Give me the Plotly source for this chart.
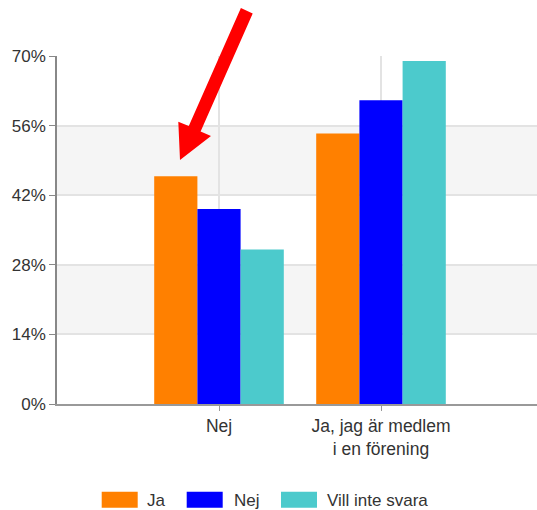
import plotly.graph_objects as go

categories = ["Nej", "Ja, jag är medlem<br>i en förening"]
series_names = ["Ja", "Nej", "Vill inte svara"]
series_colors = ["#FF8000", "#0000FF", "#4CCACC"]
values_ja = [45.8, 54.4]
values_nej = [39.2, 61.1]
values_vill = [31.1, 69.0]
series_values = [values_ja, values_nej, values_vill]
y_ticks = [0, 14, 28, 42, 56, 70]
y_tick_labels = ["0%", "14%", "28%", "42%", "56%", "70%"]

W, H = 537, 510
ML, MR, MT, MB = 57, 0, 56, 106
PW, PH = W - ML - MR, H - MT - MB

def px(x):
    return (x - ML) / PW

def py(y):
    return (H - MB - y) / PH

FONT = "Liberation Sans, Arial, sans-serif"
TXT = "#333333"

fig = go.Figure()
for name, vals, col in zip(series_names, series_values, series_colors):
    fig.add_trace(go.Bar(x=categories, y=vals, name=name, marker=dict(color=col, line=dict(width=0)),
                         showlegend=False))

shapes = []
# alternating background bands
for i in range(1, len(y_ticks) - 1, 2):
    shapes.append(dict(type="rect", xref="paper", yref="y", x0=0, x1=1, y0=y_ticks[i], y1=y_ticks[i + 1],
                       fillcolor="#f5f5f5", line=dict(width=0), layer="below"))

# red arrow (decoration)
pts = [(240.9, 8.0), (252.7, 13.6), (200.6, 131.6), (211, 136), (180, 160), (178.3, 121.7), (188.8, 126.0)]
path = "M " + " L ".join(f"{px(a):.5f},{py(b):.5f}" for a, b in pts) + " Z"
shapes.append(dict(type="path", xref="paper", yref="paper", path=path, fillcolor="#FF0000",
                   line=dict(width=0), layer="above"))

# custom legend
annotations = []
sw_x = [101.7, 186.7, 281]
tx_x = [145, 231.7, 325]
for name, col, sx, tx in zip(series_names, series_colors, sw_x, tx_x):
    shapes.append(dict(type="rect", xref="paper", yref="paper", x0=px(sx), x1=px(sx + 36),
                       y0=py(491.7), y1=py(507.7), fillcolor=col, line=dict(width=0)))
    annotations.append(dict(xref="paper", yref="paper", x=px(tx), y=py(500), text=name, showarrow=False,
                            xanchor="left", yanchor="middle", font=dict(family=FONT, size=17, color=TXT)))

fig.update_layout(
    width=W, height=H,
    margin=dict(l=ML, r=MR, t=MT, b=MB),
    paper_bgcolor="white", plot_bgcolor="white",
    barmode="group", bargap=0.2, bargroupgap=0,
    shapes=shapes, annotations=annotations,
    font=dict(family=FONT, size=17, color=TXT),
    showlegend=False,
)
fig.update_xaxes(range=[-1, 1.963], showgrid=True, gridcolor="#e3e3e3", gridwidth=1.5,
                 showline=True, linecolor="#999999", linewidth=1.5,
                 ticks="outside", ticklen=5, tickcolor="#999999",
                 tickfont=dict(family=FONT, size=17.5, color=TXT), fixedrange=True)
fig.update_yaxes(range=[0, 70], tickvals=y_ticks, ticktext=y_tick_labels,
                 showgrid=True, gridcolor="#e3e3e3", gridwidth=1.5,
                 showline=True, linecolor="#888888", linewidth=1.5, zeroline=False,
                 ticks="outside", ticklen=6, tickcolor="#888888",
                 tickfont=dict(family=FONT, size=17, color=TXT))

fig.write_html("out.html", config={"displayModeBar": False},
               post_script="document.body.style.margin='0';document.body.style.overflow='hidden';")
